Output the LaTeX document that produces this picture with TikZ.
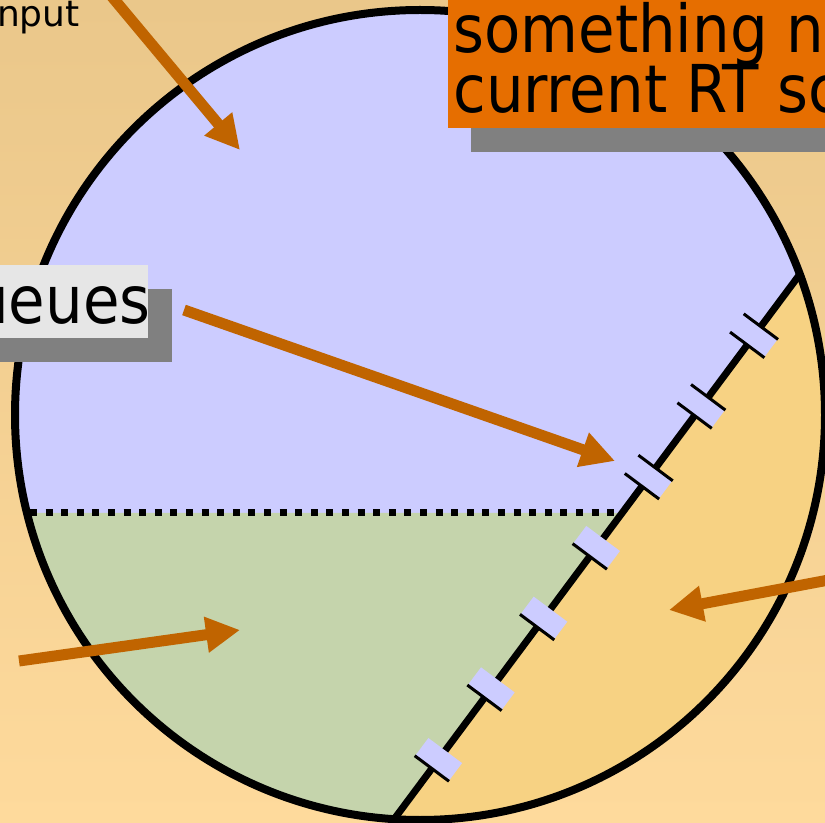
\documentclass[tikz,border=0pt]{standalone}
\usepackage{fontspec}
\newfontfamily\slidefont{DejaVu Sans Condensed}
\newfontfamily\plainfont{DejaVu Sans}
\usetikzlibrary{calc,arrows.meta}

\definecolor{lavender}{HTML}{CCCCFF}
\definecolor{sage}{HTML}{C5D4AC}
\definecolor{slidetan}{HTML}{F7D283}
\definecolor{bgtop}{HTML}{EAC78A}
\definecolor{bgbottom}{HTML}{FEDA9C}
\definecolor{callout}{HTML}{E66E00}
\definecolor{pointer}{HTML}{C06400}
\definecolor{shadowgray}{HTML}{808080}
\definecolor{boxgray}{HTML}{E6E6E6}

\begin{document}
\begin{tikzpicture}[
    x=0.5pt, y=-0.5pt,
    ptr/.style={draw=pointer, line width=5.5pt, -{Triangle[length=17pt,width=17pt]}},
    slot/.style={rectangle, fill=lavender, minimum width=21pt, minimum height=11pt, inner sep=0pt, rotate=-36.7},
    slotline/.style={line width=1.5pt},
    bigtext/.style={font=\slidefont\fontsize{33pt}{30pt}\selectfont, inner sep=0pt},
    smalltext/.style={font=\plainfont\fontsize{18pt}{20pt}\selectfont, inner sep=0pt}
]
\useasboundingbox (0,0) rectangle (825,823);
\clip (0,0) rectangle (825,823);

% Background
\shade[top color=bgtop, bottom color=bgbottom] (0,0) rectangle (825,823);

% Helper coordinates
\coordinate (c) at (420,415);
\coordinate (d1) at (803,270);
\coordinate (d2) at (395,818);
\coordinate (dl) at (30,513);
\coordinate (dr) at (622,513);

% Circle and its regions
\fill[lavender] (c) circle[radius=202.5pt];
\begin{scope}
    \clip (c) circle[radius=202.5pt];
    \fill[sage] (0,513) -- (dr) -- (378.6,840) -- (0,840) -- cycle;
    \fill[slidetan] (855.1,200) -- (378.6,840) -- (900,840) -- (900,200) -- cycle;
    \draw[line width=3.5pt] ($(d1)!-0.1!(d2)$) -- ($(d1)!1.1!(d2)$);
\end{scope}

% Dotted border
\draw[line width=3.5pt, dash pattern=on 3.5pt off 4.3pt] (dl) -- (dr);

% Slots on the diagonal
\foreach \t [count=\i] in {0.120,0.249,0.378,0.506,0.635,0.764,0.893} {
    \node[slot] (slot\i) at ($(d1)!\t!(d2)$) {};
    \draw[slotline] (slot\i.south west) -- (slot\i.south east);
    \ifnum\i<4 \draw[slotline] (slot\i.north west) -- (slot\i.north east); \fi
}

\draw[line width=4pt] (c) circle[radius=202.5pt];

% Callout boxes
\fill[shadowgray] (471,24) rectangle (900,152);
\fill[callout] (448,-20) rectangle (900,128);
\node[bigtext, anchor=base west] (something) at (453,53) {something no};
\node[bigtext, anchor=base west] (current) at (453,113) {current RT sc};

\fill[shadowgray] (-20,289) rectangle (172,362);
\fill[boxgray] (-20,265) rectangle (148,338);
\node[bigtext, anchor=base east] (queues) at (151,324) {ueues};

\node[smalltext, anchor=base east] (input) at (80,27) {nput};

% Pointers
\coordinate (ptr1tail) at (98,-20);
\coordinate (ptr1tip) at (240,150);
\coordinate (ptr2tail) at (184,310);
\coordinate (ptr2tip) at (615,461);
\coordinate (ptr3tail) at (19,661);
\coordinate (ptr3tip) at (240,630);
\coordinate (ptr4tail) at (850,576);
\coordinate (ptr4tip) at (669,610);

\draw[ptr] (ptr1tail) -- (ptr1tip);
\draw[ptr] (ptr2tail) -- (ptr2tip);
\draw[ptr] (ptr3tail) -- (ptr3tip);
\draw[ptr] (ptr4tail) -- (ptr4tip);

\end{tikzpicture}
\end{document}
